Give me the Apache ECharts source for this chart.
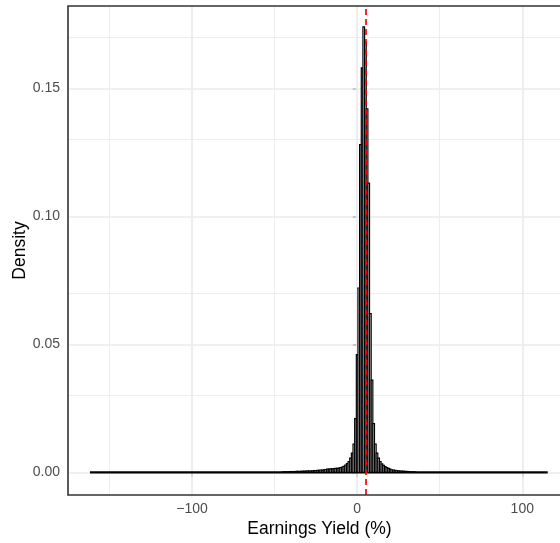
<!DOCTYPE html>
<html>
<head>
<meta charset="utf-8">
<script src="https://cdn.jsdelivr.net/npm/echarts@6/dist/echarts.min.js"></script>
<style>
html,body{margin:0;padding:0;background:#fff;overflow:hidden;}
#chart{width:560px;height:543px;}
</style>
</head>
<body>
<div id="chart"></div>
<script>
// Histogram bins (width 1, centred on these values) and their densities
const binCenters = [
 -45,-44,-43,-42,-41,-40,-39,-38,-37,-36,-35,-34,-33,-32,-31,-30,-29,-28,-27,-26,
 -25,-24,-23,-22,-21,-20,-19,-18,-17,-16,-15,-14,-13,-12,-11,-10,-9,-8,-7,-6,
 -5,-4,-3,-2,-1,0,1,2,3,4,5,6,7,8,9,10,11,12,13,14,
 15,16,17,18,19,20,21,22,23,24,25,26,27,28,29,30,31,32,33,34,35
];
const densities = [
 0.0001,0.0002,0.0001,0.0002,0.0002,0.0003,0.0002,0.0003,0.0003,0.0004,0.0003,0.0004,0.0004,0.0005,0.0004,0.0006,0.0005,0.0006,0.0006,0.0007,
 0.0007,0.0008,0.0008,0.0009,0.0009,0.0010,0.0011,0.0012,0.0012,0.0013,0.0013,0.0014,0.0015,0.0015,0.0016,0.0018,0.0020,0.0023,0.0028,0.0034,
 0.0042,0.0055,0.0075,0.0110,0.0210,0.0460,0.0720,0.1280,0.1580,0.1740,0.1680,0.1420,0.1130,0.0620,0.0360,0.0190,0.0110,0.0075,0.0055,0.0042,
 0.0033,0.0027,0.0022,0.0018,0.0015,0.0012,0.0010,0.0009,0.0008,0.0007,0.0006,0.0005,0.0005,0.0004,0.0004,0.0003,0.0003,0.0002,0.0002,0.0001,0.0001
];
const dataRange = [-161.8, 115.4];   // extent of the (mostly empty) bins
const binWidth = 1;
const refLineX = 5.1;                 // red dashed reference line

const xTickValues = [-100, 0, 100];
const xTickLabels = ['\u2212100', '0', '100'];
const xMinorGrid = [-150, -50, 50];
const yTickValues = [0, 0.05, 0.10, 0.15];
const yTickLabels = ['0.00', '0.05', '0.10', '0.15'];
const yMinorGrid = [0.025, 0.075, 0.125, 0.175];

const histData = binCenters.map((c, i) => [c, densities[i]]);

const chart = echarts.init(document.getElementById('chart'), null, {renderer: 'canvas'});
const labelFont = {color: '#4D4D4D', fontSize: 14, fontFamily: 'Liberation Sans, Arial, sans-serif'};
const nameFont = {color: '#000000', fontSize: 17.5, fontFamily: 'Liberation Sans, Arial, sans-serif'};

const gridLines = []
  .concat(xMinorGrid.map(v => ({xAxis: v, lineStyle: {width: 0.9}})))
  .concat(yMinorGrid.map(v => ({yAxis: v, lineStyle: {width: 0.9}})))
  .concat(xTickValues.map(v => ({xAxis: v, lineStyle: {width: 1.7}})))
  .concat(yTickValues.map(v => ({yAxis: v, lineStyle: {width: 1.7}})));

chart.setOption({
  animation: false,
  backgroundColor: '#ffffff',
  grid: {left: 68, top: 6, right: -11, bottom: 48, containLabel: false, outerBoundsMode: 'none',
    show: true, borderColor: '#333333', borderWidth: 1.6, backgroundColor: 'transparent', z: 10},
  xAxis: {
    type: 'value', min: -175.1, max: 129.5,
    name: 'Earnings Yield (%)', nameLocation: 'middle', nameGap: 25, nameMoveOverlap: false, nameTextStyle: nameFont,
    axisLine: {show: false},
    axisTick: {show: true, length: 4.4, lineStyle: {color: '#333333', width: 1.6}, customValues: xTickValues},
    axisLabel: {show: true, margin: 7, ...labelFont, customValues: xTickValues,
      formatter: v => { const i = xTickValues.indexOf(v); return i >= 0 ? xTickLabels[i] : ''; }},
    splitLine: {show: false}, minorSplitLine: {show: false}
  },
  yAxis: {
    type: 'value', min: -0.00887, max: 0.18215,
    name: 'Density', nameLocation: 'middle', nameGap: 39, nameRotate: 90, nameMoveOverlap: false, nameTextStyle: nameFont,
    axisLine: {show: false},
    axisTick: {show: true, length: 4.4, lineStyle: {color: '#333333', width: 1.6}, customValues: yTickValues},
    axisLabel: {show: true, margin: 8, ...labelFont, customValues: yTickValues,
      formatter: v => { const i = yTickValues.findIndex(t => Math.abs(t - v) < 1e-9); return i >= 0 ? yTickLabels[i] : ''; }},
    splitLine: {show: false}, minorSplitLine: {show: false}
  },
  series: [
    {
      type: 'line', data: [], silent: true, z: 1,
      markLine: {silent: true, z: 1, symbol: ['none', 'none'], label: {show: false},
        lineStyle: {color: '#EBEBEB', type: 'solid'}, animation: false, data: gridLines}
    },
    {
      type: 'line', data: dataRange.map(x => [x, 0]), symbol: 'none', z: 2,
      lineStyle: {color: '#000000', width: 2.2}, silent: true
    },
    {
      type: 'custom', z: 3, silent: true,
      data: histData,
      renderItem: function (params, api) {
        const c = api.value(0), d = api.value(1);
        const p0 = api.coord([c - binWidth / 2, d]);
        const p1 = api.coord([c + binWidth / 2, 0]);
        return {
          type: 'rect',
          shape: {x: p0[0], y: p0[1], width: p1[0] - p0[0], height: p1[1] - p0[1]},
          style: {fill: '#ffffff', stroke: '#000000', lineWidth: 1.2}
        };
      }
    },
    {
      type: 'line', data: [], silent: true, z: 4,
      markLine: {silent: true, z: 6, symbol: ['none', 'none'], label: {show: false}, animation: false,
        lineStyle: {color: '#FF0000', type: [6, 4], width: 1.7},
        data: [{xAxis: refLineX}]}
    }
  ]
});
</script>
</body>
</html>
